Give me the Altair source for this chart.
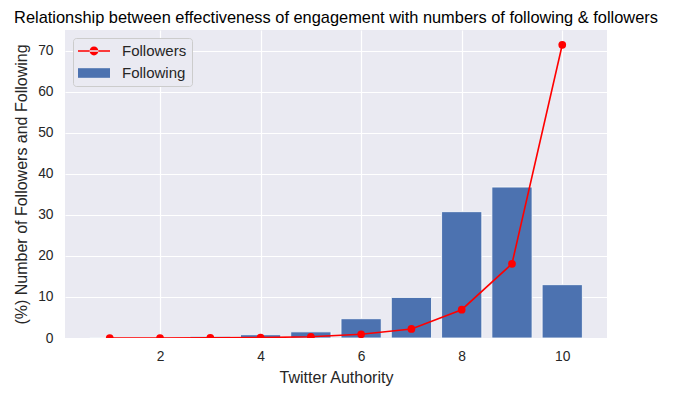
import altair as alt
import pandas as pd

authority = [1, 2, 3, 4, 5, 6, 7, 8, 9, 10]
following = [0.05, 0.1, 0.4, 0.8, 1.5, 4.7, 9.9, 30.8, 36.8, 13.0]
followers = [0.0, 0.0, 0.05, 0.1, 0.3, 0.9, 2.2, 6.9, 18.1, 71.5]

df_bar = pd.DataFrame({"x": authority, "v": following, "series": "Following"})
df_line = pd.DataFrame({"x": authority, "v": followers, "series": "Followers"})

FONT = "Liberation Sans"
xs = alt.Scale(domain=[0.11, 10.89], nice=False, zero=False)
ys = alt.Scale(domain=[0, 75.1], nice=False)
color_scale = alt.Scale(domain=["Followers", "Following"], range=["#ff0000", "#4c72b0"])
line_sym = ("M-1,-0.1H3V0.1H-1Z "
            "M0.45,0 A0.55,0.55 0 1,0 1.55,0 A0.55,0.55 0 1,0 0.45,0Z")
rect_sym = "M-1,-0.6H3V0.6H-1Z"
shape_scale = alt.Scale(domain=["Followers", "Following"], range=[line_sym, rect_sym])

legend = alt.Legend(title=None, orient="top-left", symbolSize=256, labelFontSize=15,
                    labelFont=FONT, labelColor="#262626", padding=5, offset=8,
                    fillColor="#EAEAF2", strokeColor="#cccccc", cornerRadius=3,
                    rowPadding=6, labelOffset=28, symbolStrokeWidth=0, symbolOpacity=1)

bars = alt.Chart(df_bar).transform_calculate(
    x0="datum.x - 0.4", x1="datum.x + 0.4"
).mark_rect(stroke="white", strokeWidth=0.8).encode(
    x=alt.X("x0:Q", scale=xs, title="Twitter Authority",
            axis=alt.Axis(values=[2, 4, 6, 8, 10], format="d")),
    x2="x1:Q",
    y=alt.Y("v:Q", scale=ys, title="(%) Number of Followers and Following",
            axis=alt.Axis(values=[0, 10, 20, 30, 40, 50, 60, 70])),
    y2=alt.datum(0),
    color=alt.Color("series:N", scale=color_scale, legend=legend),
)

line = alt.Chart(df_line).mark_line(color="#ff0000", strokeWidth=1.6, clip=True).encode(
    x=alt.X("x:Q", scale=xs), y=alt.Y("v:Q", scale=ys),
)
pts = alt.Chart(df_line).mark_point(filled=True, opacity=1, size=60, clip=True,
                                    color="#ff0000", shape="circle").encode(
    x=alt.X("x:Q", scale=xs), y=alt.Y("v:Q", scale=ys),
)
legend_dummy = alt.Chart(df_line).mark_point(filled=True, opacity=0).encode(
    x=alt.X("x:Q", scale=xs), y=alt.Y("v:Q", scale=ys),
    color=alt.Color("series:N", scale=color_scale, legend=legend),
    shape=alt.Shape("series:N", scale=shape_scale, legend=legend),
)

chart = alt.layer(bars, line, pts, legend_dummy).properties(
    width=542, height=308,
    title=alt.Title("Relationship between effectiveness of engagement with numbers of following & followers",
                    fontSize=16.4, font=FONT, fontWeight="normal", color="#000000", offset=4),
    autosize=alt.AutoSizeParams(type="none"),
    padding={"left": 57, "top": 22, "right": 58, "bottom": 50},
).configure_view(fill="#EAEAF2", stroke=None).configure_axis(
    grid=True, gridColor="white", gridWidth=1.2, domain=False, ticks=False,
    labelFont=FONT, titleFont=FONT, labelFontSize=13.8, titleFontSize=16,
    labelColor="#262626", titleColor="#262626", titleFontWeight="normal",
).configure_axisX(titlePadding=7, labelPadding=11).configure_axisY(titlePadding=8, labelPadding=12)

chart.save("out.html", embed_options={"renderer": "svg", "actions": False})
